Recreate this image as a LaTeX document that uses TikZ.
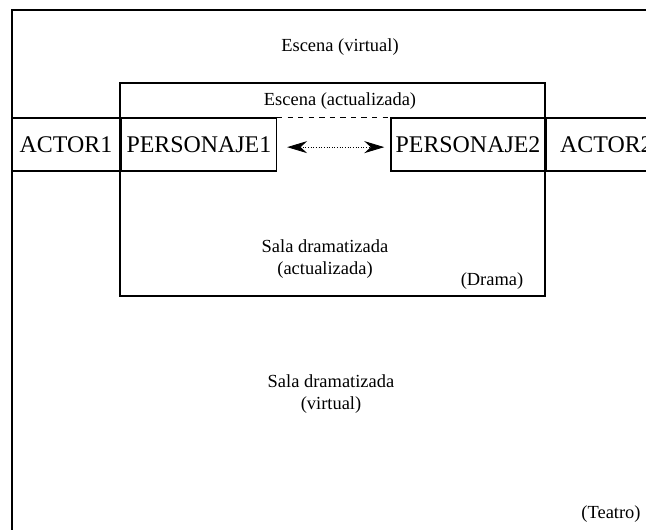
\documentclass[tikz,border=0pt]{standalone}
\usepackage{fontspec}
\setmainfont{Liberation Serif}
\usetikzlibrary{arrows.meta,positioning}

\begin{document}
\begin{tikzpicture}[>={Stealth[length=4mm,width=2.4mm]},
  rolebox/.style={draw, line width=0.8pt, minimum height=1.06cm, inner sep=0pt,
                  font=\fontsize{13.6}{15}\selectfont},
  tag/.style={font=\fontsize{10.5}{12.5}\selectfont, align=center}]

  \useasboundingbox (0,0) rectangle (12.92,-10.58);
  \clip (0,0) rectangle (12.92,-10.58);

  % ---- frames: theatre (cut at the page edge) and drama ----
  \draw[line width=0.8pt] (0.24,-10.8) -- (0.24,-0.2) -- (13.2,-0.2);
  \draw[line width=0.6pt] (2.4,-1.66) rectangle (10.9,-5.92);

  % ---- actors and characters on the stage line ----
  \node[rolebox, minimum width=2.16cm] (actor1) at (1.32,-2.89) {ACTOR1};
  \node[rolebox, minimum width=3.1cm, right=0pt of actor1] (pers1) {PERSONAJE1};
  \node[rolebox, minimum width=3.08cm] (pers2) at (9.36,-2.89) {PERSONAJE2};
  \node[rolebox, minimum width=2.4cm, right=0pt of pers2] (actor2) {ACTOR2};

  % dashed stretch between the two characters
  \draw[dashed, line width=0.6pt] (pers1.north east) -- (pers2.north west);
  \draw[<->, densely dotted, line width=0.5pt, shorten <=0.2cm, shorten >=0.12cm]
    ([yshift=-1.5pt]pers1.east) -- ([yshift=-1.5pt]pers2.west);

  % ---- labels ----
  \node[tag] (escv)   at (6.8,-0.94)   {Escena (virtual)};
  \node[tag] (esca)   at (6.8,-2.03)   {Escena (actualizada)};
  \node[tag] (salaa)  at (6.5,-5.18)   {Sala dramatizada\\(actualizada)};
  \node[tag] (drama)  at (9.84,-5.62)  {(Drama)};
  \node[tag] (salav)  at (6.62,-7.89)  {Sala dramatizada\\(virtual)};
  \node[tag] (teatro) at (12.22,-10.28) {(Teatro)};

\end{tikzpicture}
\end{document}
